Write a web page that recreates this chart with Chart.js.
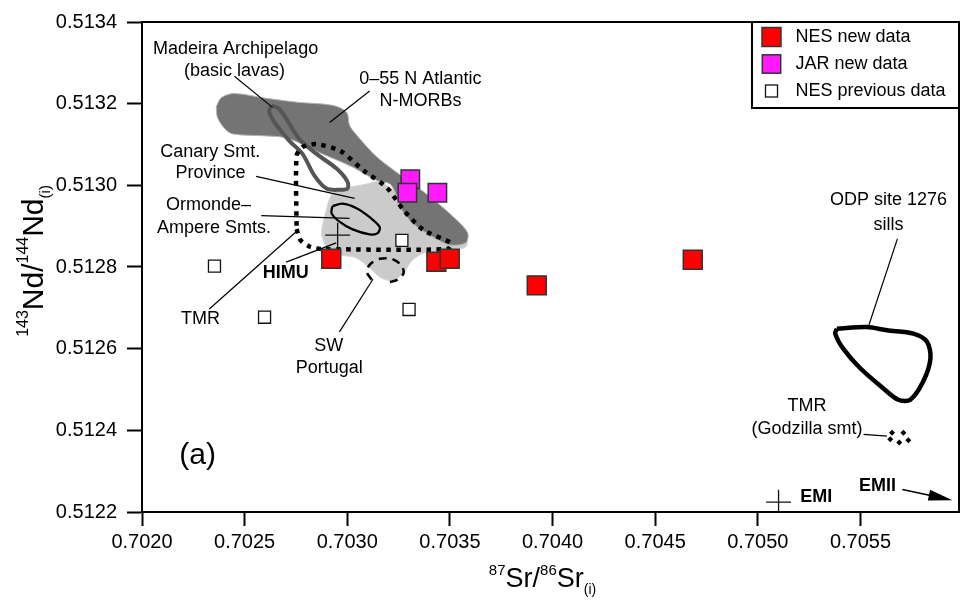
<!DOCTYPE html>
<html>
<head>
<meta charset="utf-8">
<script src="https://cdn.jsdelivr.net/npm/chart.js@4.4.0/dist/chart.umd.min.js"></script>
<style>
  html, body { margin: 0; padding: 0; background: #fff; }
  canvas { display: block; }
</style>
</head>
<body>
<canvas id="chart" width="961" height="607"></canvas>
<script>
// ---- sample data ([87Sr/86Sr, 143Nd/144Nd]) ----
const nesNew = [[0.702922, 0.512820], [0.703434, 0.512813], [0.703499, 0.512820], [0.703923, 0.512755], [0.704683, 0.512818]];
const jarNew = [[0.703307, 0.513015], [0.703293, 0.512982], [0.703439, 0.512982]];
const nesPrev = [[0.702353, 0.512802], [0.703266, 0.512865], [0.702597, 0.512677], [0.703301, 0.512696]];

// ---- literature fields (outlines traced in data units) ----
const morbField = [
  [0.702362, 0.513193], [0.702387, 0.513215], [0.702450, 0.513225], [0.702606, 0.513213], [0.702767, 0.513203],
  [0.702928, 0.513196], [0.702997, 0.513179], [0.703011, 0.513147], [0.703041, 0.513126], [0.703143, 0.513070],
  [0.703270, 0.513021], [0.703401, 0.512973], [0.703533, 0.512915], [0.703587, 0.512883], [0.703577, 0.512859],
  [0.703499, 0.512854], [0.703416, 0.512874], [0.703319, 0.512907], [0.703255, 0.512949], [0.703236, 0.512980],
  [0.703206, 0.513004], [0.703143, 0.513012], [0.703021, 0.513046], [0.702865, 0.513080], [0.702743, 0.513109],
  [0.702684, 0.513118], [0.702606, 0.513121], [0.702441, 0.513126], [0.702401, 0.513140], [0.702367, 0.513167],
  [0.702362, 0.513193]
];
const canaryField = [
  [0.702889, 0.512924], [0.702928, 0.512980], [0.703011, 0.512995], [0.703084, 0.513002], [0.703158, 0.513009],
  [0.703231, 0.512985], [0.703353, 0.512937], [0.703499, 0.512888], [0.703582, 0.512869], [0.703577, 0.512849],
  [0.703484, 0.512840], [0.703377, 0.512835], [0.703314, 0.512815], [0.703275, 0.512786], [0.703221, 0.512767],
  [0.703162, 0.512774], [0.703109, 0.512798], [0.703041, 0.512823], [0.702962, 0.512830], [0.702899, 0.512849],
  [0.702875, 0.512883], [0.702889, 0.512924]
];
const madeiraField = [
  [0.702631, 0.513195], [0.702665, 0.513189], [0.702704, 0.513162], [0.702767, 0.513113], [0.702850, 0.513077],
  [0.702948, 0.513041], [0.703001, 0.513009], [0.703001, 0.512992], [0.702962, 0.512989], [0.702899, 0.512992],
  [0.702840, 0.513024], [0.702782, 0.513077], [0.702718, 0.513109], [0.702645, 0.513155], [0.702619, 0.513181],
  [0.702631, 0.513195]
];
const tmrField = [
  [0.702753, 0.512893], [0.702772, 0.512866], [0.702821, 0.512849], [0.702880, 0.512844], [0.703489, 0.512844],
  [0.703504, 0.512859], [0.703372, 0.512890], [0.703275, 0.512939], [0.703192, 0.512995], [0.703080, 0.513036],
  [0.702967, 0.513084], [0.702850, 0.513101], [0.702782, 0.513094], [0.702753, 0.513072], [0.702753, 0.512893]
];
const ormondeField = [
  [0.702928, 0.512949], [0.702977, 0.512955], [0.703045, 0.512944], [0.703109, 0.512922], [0.703158, 0.512898],
  [0.703148, 0.512883], [0.703109, 0.512880], [0.703026, 0.512892], [0.702962, 0.512911], [0.702923, 0.512932],
  [0.702928, 0.512949]
];
const swPortugal = [
  [0.703119, 0.512769], [0.703094, 0.512789], [0.703114, 0.512808], [0.703158, 0.512820], [0.703216, 0.512820],
  [0.703260, 0.512806], [0.703275, 0.512786], [0.703245, 0.512769], [0.703197, 0.512762]
];
const odpSills = [
  [0.705385, 0.512649], [0.705532, 0.512653], [0.705629, 0.512645], [0.705758, 0.512637], [0.705824, 0.512617],
  [0.705841, 0.512576], [0.705806, 0.512520], [0.705743, 0.512475], [0.705684, 0.512475], [0.705611, 0.512503],
  [0.705499, 0.512552], [0.705416, 0.512600], [0.705377, 0.512637], [0.705385, 0.512649]
];
const godzilla = [[0.705654, 0.512394], [0.705709, 0.512394], [0.705645, 0.512378], [0.705689, 0.512370], [0.705733, 0.512376]];
const endMembers = [[0.702953, 0.512878], [0.705101, 0.512224]]; // HIMU, EMI
const emiiArrow = [[0.705704, 0.512255], [0.705948, 0.512229]];

// leader lines from labels to fields
const leaders = [
  [[0.702450, 0.513267], [0.702636, 0.513191]],
  [[0.703109, 0.513231], [0.702914, 0.513154]],
  [[0.702556, 0.513022], [0.703036, 0.512968]],
  [[0.702581, 0.512926], [0.703011, 0.512919]],
  [[0.702702, 0.512812], [0.702946, 0.512859]],
  [[0.702328, 0.512697], [0.702759, 0.512890]],
  [[0.702962, 0.512641], [0.703125, 0.512770]],
  [[0.705680, 0.512869], [0.705538, 0.512653]],
  [[0.705515, 0.512390], [0.705629, 0.512386]]
];

// labels anchored in data units
const notes = [
  ['Madeira Archipelago', 0.702456, 0.513335],
  ['(basic lavas)', 0.702451, 0.513281],
  ['0\u201355 N Atlantic', 0.703356, 0.513261],
  ['N-MORBs', 0.703357, 0.513206],
  ['Canary Smt.', 0.702332, 0.513081],
  ['Province', 0.702334, 0.513029],
  ['Ormonde\u2013', 0.702324, 0.512952],
  ['Ampere Smts.', 0.702351, 0.512895],
  ['HIMU', 0.702700, 0.512786, 'bold'],
  ['TMR', 0.702285, 0.512673],
  ['SW', 0.702910, 0.512607],
  ['Portugal', 0.702912, 0.512553],
  ['ODP site 1276', 0.705637, 0.512963],
  ['sills', 0.705637, 0.512903],
  ['TMR', 0.705240, 0.512459],
  ['(Godzilla smt)', 0.705240, 0.512403],
  ['EMI', 0.705285, 0.512236, 'bold'],
  ['EMII', 0.705583, 0.512263, 'bold'],
  ['(a)', 0.702271, 0.512338, 'big']
];

const xMin = 0.7020, xMax = 0.70598;
const xTicks = [0.7020, 0.7025, 0.7030, 0.7035, 0.7040, 0.7045, 0.7050, 0.7055];
const yMin = 0.5122, yMax = 0.5134;
const yTicks = [0.5122, 0.5124, 0.5126, 0.5128, 0.5130, 0.5132, 0.5134];

const FONT = '"Liberation Sans", Arial, Helvetica, sans-serif';
const pts = arr => arr.map(([x, y]) => ({ x, y }));

function field(data, opts) {
  return Object.assign({
    type: 'line', data: pts(data), pointRadius: 0, pointHoverRadius: 0, pointHitRadius: 0,
    borderWidth: 0, fill: false, tension: 0.3
  }, opts);
}

const overlay = {
  id: 'overlay',
  afterDatasetsDraw(chart) {
    const { ctx, chartArea: a, scales: { x, y } } = chart;
    const px = p => [x.getPixelForValue(p[0]), y.getPixelForValue(p[1])];
    ctx.save();

    // frame
    ctx.strokeStyle = '#000';
    ctx.lineWidth = 2;
    ctx.strokeRect(a.left, a.top, a.right - a.left, a.bottom - a.top);

    // leader lines
    ctx.lineWidth = 1.2;
    leaders.forEach(([p, q]) => {
      const [x1, y1] = px(p), [x2, y2] = px(q);
      ctx.beginPath(); ctx.moveTo(x1, y1); ctx.lineTo(x2, y2); ctx.stroke();
    });

    // EMII arrow
    const [ax1, ay1] = px(emiiArrow[0]), [ax2, ay2] = px(emiiArrow[1]);
    const ang = Math.atan2(ay2 - ay1, ax2 - ax1);
    ctx.lineWidth = 1.5;
    ctx.beginPath(); ctx.moveTo(ax1, ay1); ctx.lineTo(ax2 - 20 * Math.cos(ang), ay2 - 20 * Math.sin(ang)); ctx.stroke();
    ctx.fillStyle = '#000';
    ctx.beginPath();
    ctx.moveTo(ax2, ay2);
    ctx.lineTo(ax2 - 24 * Math.cos(ang) + 5.5 * Math.sin(ang), ay2 - 24 * Math.sin(ang) - 5.5 * Math.cos(ang));
    ctx.lineTo(ax2 - 24 * Math.cos(ang) - 5.5 * Math.sin(ang), ay2 - 24 * Math.sin(ang) + 5.5 * Math.cos(ang));
    ctx.closePath(); ctx.fill();

    // labels
    ctx.textAlign = 'center';
    ctx.textBaseline = 'middle';
    notes.forEach(([t, vx, vy, kind]) => {
      ctx.font = kind === 'bold' ? 'bold 18px ' + FONT : kind === 'big' ? '30px ' + FONT : '18px ' + FONT;
      const [tx, ty] = px([vx, vy]);
      ctx.fillText(t, tx, ty);
    });

    // legend box
    const lw = 207, lh = 86, lx = a.right - lw, ly = a.top;
    ctx.fillStyle = '#fff';
    ctx.fillRect(lx, ly, lw, lh);
    ctx.lineWidth = 2;
    ctx.strokeRect(lx, ly, lw, lh);
    const items = chart.data.datasets.filter(d => d.inLegend);
    items.forEach((d, i) => {
      const cy = ly + 15 + i * 27;
      const s = d.pointRadius * Math.SQRT2;
      ctx.fillStyle = d.backgroundColor;
      ctx.strokeStyle = d.borderColor;
      ctx.lineWidth = d.borderWidth;
      ctx.fillRect(lx + 19.5 - s / 2, cy - s / 2, s, s);
      ctx.strokeRect(lx + 19.5 - s / 2, cy - s / 2, s, s);
      ctx.fillStyle = '#000';
      ctx.font = '18px ' + FONT;
      ctx.textAlign = 'left';
      ctx.fillText(d.label, lx + 43.5, cy);
    });
    ctx.restore();
  },
  afterDraw(chart) {
    const { ctx, chartArea: a } = chart;
    function rich(parts, cx, by) {
      let w = 0;
      parts.forEach(([t, s]) => { ctx.font = s + 'px ' + FONT; w += ctx.measureText(t).width; });
      let xx = cx - w / 2;
      parts.forEach(([t, s, dy]) => {
        ctx.font = s + 'px ' + FONT;
        ctx.fillText(t, xx, by + dy);
        xx += ctx.measureText(t).width;
      });
    }
    ctx.save();
    ctx.fillStyle = '#000';
    ctx.textAlign = 'left';
    ctx.textBaseline = 'alphabetic';
    // x title
    rich([['87', 15, -12], ['Sr/', 27, 0], ['86', 15, -12], ['Sr', 27, 0], ['(i)', 14, 7]],
         (a.left + a.right) / 2 - 8, 587);
    // y title
    ctx.translate(43, (a.top + a.bottom) / 2 - 6);
    ctx.rotate(-Math.PI / 2);
    rich([['143', 16, -15], ['Nd/', 30, 0], ['144', 16, -15], ['Nd', 30, 0], ['(i)', 15, 7]], 0, 0);
    ctx.restore();
  }
};

new Chart(document.getElementById('chart'), {
  type: 'scatter',
  data: {
    datasets: [
      { label: 'NES new data', data: pts(nesNew), pointStyle: 'rect', pointRadius: 13.4, pointHoverRadius: 13.4,
        backgroundColor: '#ff0000', borderColor: '#333333', borderWidth: 1.5, order: 1, inLegend: true },
      { label: 'JAR new data', data: pts(jarNew), pointStyle: 'rect', pointRadius: 13, pointHoverRadius: 13,
        backgroundColor: '#ff1aff', borderColor: '#333333', borderWidth: 1.5, order: 2, inLegend: true },
      { label: 'NES previous data', data: pts(nesPrev), pointStyle: 'rect', pointRadius: 8.5, pointHoverRadius: 8.5,
        backgroundColor: '#ffffff', borderColor: '#111111', borderWidth: 1.3, order: 3, inLegend: true },
      field(canaryField, { backgroundColor: '#cbcbcb', fill: 'shape', borderColor: '#d6d6d6', borderWidth: 1, order: 20 }),
      field(morbField, { backgroundColor: '#747474', fill: 'shape', borderColor: '#b4b4b4', borderWidth: 1, order: 19 }),
      field(madeiraField, { borderColor: '#555555', borderWidth: 4, order: 18 }),
      field(tmrField, { borderColor: '#000000', borderWidth: 4.5, borderDash: [4.5, 5.5], order: 17, tension: 0.25 }),
      field(ormondeField, { borderColor: '#000000', borderWidth: 2.3, order: 16 }),
      field(swPortugal, { borderColor: '#000000', borderWidth: 2.5, borderDash: [8, 6], order: 15 }),
      field(odpSills, { borderColor: '#000000', borderWidth: 4.5, order: 14 }),
      { label: 'TMR Godzilla', data: pts(godzilla), pointStyle: 'rectRot', pointRadius: 3, pointHoverRadius: 3,
        backgroundColor: '#000', borderColor: '#000', borderWidth: 0, order: 13 },
      { label: 'End members', data: pts(endMembers), pointStyle: 'cross', pointRadius: 12.5, pointHoverRadius: 12.5,
        borderColor: '#111', borderWidth: 1.3, order: 12 }
    ]
  },
  options: {
    responsive: false,
    animation: false,
    devicePixelRatio: 1,
    events: [],
    layout: { autoPadding: false, padding: { left: 0, right: 2, top: 17, bottom: 0 } },
    plugins: { legend: { display: false }, tooltip: { enabled: false } },
    scales: {
      x: {
        type: 'linear', min: xMin, max: xMax,
        afterBuildTicks: s => { s.ticks = xTicks.map(v => ({ value: v })); },
        afterFit: s => { s.height = 95; },
        ticks: { color: '#000', padding: 4, font: { family: FONT, size: 20 },
                 callback: v => v.toFixed(4) },
        grid: { drawOnChartArea: false, tickLength: 14, tickWidth: 2, tickColor: '#000' },
        border: { color: '#000', width: 2 }
      },
      y: {
        type: 'linear', min: yMin, max: yMax,
        afterBuildTicks: s => { s.ticks = yTicks.map(v => ({ value: v })); },
        afterFit: s => { s.width = 142; },
        ticks: { color: '#000', padding: 10, font: { family: FONT, size: 20 },
                 callback: v => v.toFixed(4) },
        grid: { drawOnChartArea: false, tickLength: 15, tickWidth: 2, tickColor: '#000' },
        border: { color: '#000', width: 2 }
      }
    }
  },
  plugins: [overlay]
});
</script>
</body>
</html>
